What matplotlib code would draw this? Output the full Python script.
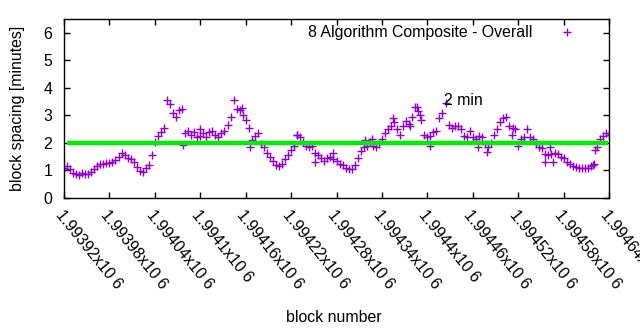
import numpy as np
import matplotlib
matplotlib.use("Agg")
import matplotlib.pyplot as plt

plt.rcParams['font.family'] = ['Liberation Sans', 'DejaVu Sans']

# block numbers (one sample every 4 blocks)
blocks = np.arange(1993920, 1994641, 4)

# block spacing in minutes
spacing = [
    1.10, 1.15, 1.05, 0.92, 0.88, 0.85, 0.90, 0.88, 0.86, 0.95, 1.05, 1.15, 1.22, 1.25, 1.27,
    1.28, 1.30, 1.38, 1.50, 1.62, 1.55, 1.45, 1.40, 1.30, 1.12, 0.98, 0.95, 1.10, 1.20, 1.55,
    2.05, 2.25, 2.40, 2.55, 3.55, 3.40, 3.10, 2.95, 3.20, 3.25, 2.35, 2.45, 2.30, 2.40, 2.20,
    2.25, 2.35, 2.20, 2.40, 2.45, 2.30, 2.20, 2.35, 2.45, 2.65, 2.95, 3.55, 3.25, 3.20, 3.00,
    2.85, 2.55, 2.10, 2.25, 2.35, 1.95, 1.85, 1.65, 1.50, 1.35, 1.20, 1.15, 1.25, 1.40, 1.55,
    1.75, 1.90, 2.30, 2.20, 2.05, 1.90, 1.85, 1.90, 1.65, 1.55, 1.45, 1.35, 1.45, 1.50, 1.40,
    1.35, 1.25, 1.20, 1.10, 1.05, 1.05, 1.20, 1.45, 1.70, 1.85, 1.90, 2.05, 1.90, 1.85, 1.95,
    2.15, 2.35, 2.50, 2.60, 2.75, 2.50, 2.30, 2.60, 2.80, 2.70, 2.95, 3.30, 3.15, 2.85, 2.30,
    2.20, 2.25, 2.40, 2.45, 2.90, 3.10, 3.45, 2.65, 2.55, 2.60, 2.60, 2.50, 2.25, 2.20, 2.45,
    2.20, 2.15, 2.25, 2.20, 1.95, 1.85, 2.00, 2.30, 2.50, 2.75, 2.90, 2.95, 2.60, 2.30, 2.50,
    1.90, 2.15, 2.20, 2.50, 2.20, 2.15, 1.95, 1.85, 1.80, 1.60, 1.55, 1.60, 1.65, 1.60, 1.50,
    1.45, 1.30, 1.25, 1.15, 1.12, 1.10, 1.10, 1.10, 1.10, 1.15, 1.25, 1.85, 2.15, 2.25, 2.35,
    2.30,
]

# scattered individual blocks visible off the main band
extra_blocks = [1994077, 1994100, 1994155, 1994166, 1994228, 1994252, 1994275,
                1994318, 1994327, 1994355, 1994377, 1994386, 1994390, 1994403,
                1994467, 1994479, 1994513, 1994555, 1994562, 1994566, 1994619,
                1994621]
extra_spacing = [1.93, 2.50, 3.27, 1.85, 2.30, 1.30, 1.65,
                 2.10, 2.15, 2.90, 2.60, 3.30, 3.00, 1.90,
                 1.85, 1.67, 2.55, 1.30, 1.85, 1.30, 1.20,
                 1.75]

target = 2.0
series_label = "8 Algorithm Composite - Overall"

xtick_values = [1993920, 1993980, 1994040, 1994100, 1994160, 1994220, 1994280,
                1994340, 1994400, 1994460, 1994520, 1994580, 1994640]
xtick_labels = ["1.99392x10 6", "1.99398x10 6", "1.99404x10 6", "1.9941x10 6",
                "1.99416x10 6", "1.99422x10 6", "1.99428x10 6", "1.99434x10 6",
                "1.9944x10 6", "1.99446x10 6", "1.99452x10 6", "1.99458x10 6",
                "1.99464x10 6"]
ytick_values = [0, 1, 2, 3, 4, 5, 6]

FS = 11.4
fig = plt.figure(figsize=(6.4, 3.3), dpi=100)
ax = fig.add_axes([0.1, 0.4, 0.8516, 0.5424])

purple = '#9400d3'
ax.plot(blocks, spacing, linestyle='none', marker='+', markersize=6,
        markeredgewidth=1.0, color=purple, label=series_label)
ax.plot(extra_blocks, extra_spacing, linestyle='none', marker='+', markersize=6,
        markeredgewidth=1.0, color=purple)
ax.plot([blocks[0] + 4, blocks[-1] - 2], [target, target], color='#00ee00',
        linewidth=3.2, solid_capstyle='butt')

ax.text(1994422, 3.53, "2 min", fontsize=FS, ha='left', va='center')

ax.set_xlim(1993920, 1994640)
ax.set_ylim(0, 6.5)
ax.set_xticks(xtick_values)
ax.set_xticklabels(xtick_labels, rotation=-51, ha='left', va='top',
                   rotation_mode='anchor', fontsize=FS)
ax.set_yticks(ytick_values)
ax.tick_params(axis='y', labelsize=FS, pad=8.5)
ax.tick_params(axis='x', pad=7)
ax.tick_params(direction='in', length=4, width=1, top=True, right=True)
for s in ax.spines.values():
    s.set_linewidth(1)

ax.set_ylabel("block spacing [minutes]", fontsize=FS)
ax.yaxis.set_label_coords(-0.072, 0.5)
ax.set_xlabel("block number", fontsize=FS)
ax.xaxis.set_label_coords(0.495, -0.625)

ax.legend(loc='upper right', bbox_to_anchor=(0.963, 1.0), frameon=False,
          markerfirst=False, fontsize=FS, handlelength=2.0, handletextpad=1.15,
          borderaxespad=0.0)

fig.savefig("out.png", dpi=100)
